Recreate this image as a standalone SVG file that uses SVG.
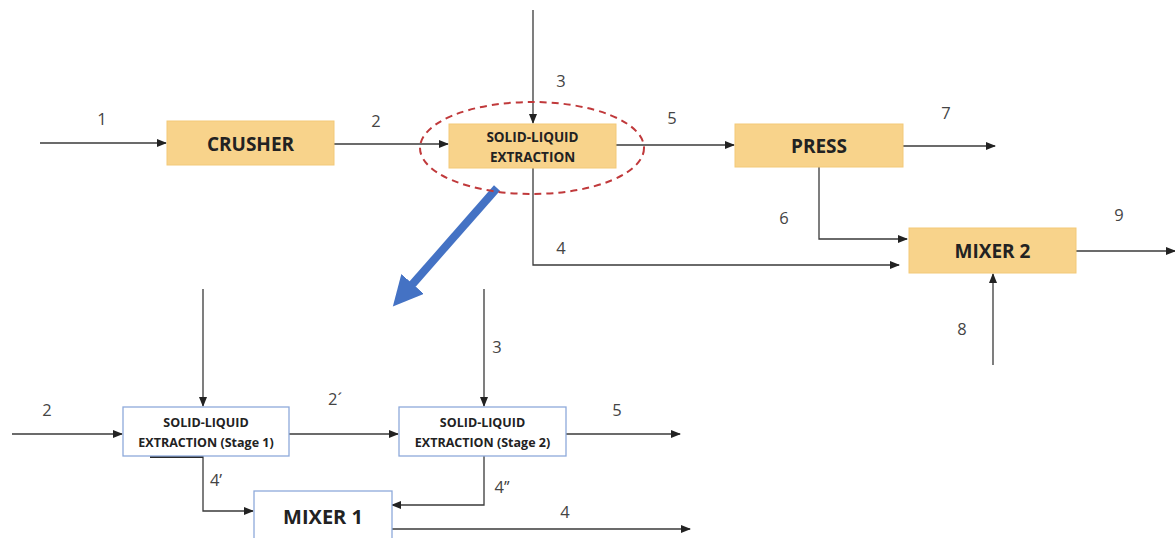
<svg xmlns="http://www.w3.org/2000/svg" width="1175" height="538" viewBox="0 0 1175 538">
<style>
.box{fill:#f8d38b;stroke:#f3c978;stroke-width:1}
.wbox{fill:#ffffff;stroke:#8eaadb;stroke-width:1.3}
.ln{fill:none;stroke:#3a3a3a;stroke-width:1.3}
.t{font-family:"Open Sans","Liberation Sans",sans-serif;font-weight:bold;fill:#222;text-anchor:middle}
.lbl{font-family:"Open Sans","Liberation Sans",sans-serif;font-size:16.5px;fill:#444;text-anchor:middle}
</style>
<defs>
<marker id="ah" markerWidth="10" markerHeight="8" refX="9" refY="4" orient="auto" markerUnits="userSpaceOnUse">
<path d="M0,0 L10,4 L0,8 z" fill="#222"/>
</marker>
<marker id="bh" markerWidth="34" markerHeight="30" refX="4" refY="15" orient="auto" markerUnits="userSpaceOnUse">
<path d="M0,0 L30,15 L0,30 z" fill="#4472c4"/>
</marker>
</defs>
<rect width="1175" height="538" fill="#ffffff"/>

<g id="connectors">
<path class="ln" d="M40,143 H166" marker-end="url(#ah)"/>
<path class="ln" d="M334,144 H448" marker-end="url(#ah)"/>
<path class="ln" d="M533,10 V123" marker-end="url(#ah)"/>
<path class="ln" d="M616,145 H734" marker-end="url(#ah)"/>
<path class="ln" d="M903,146 H995" marker-end="url(#ah)"/>
<path class="ln" d="M819,167 V239 H907" marker-end="url(#ah)"/>
<path class="ln" d="M533,168 V265 H899" marker-end="url(#ah)"/>
<path class="ln" d="M1076,251 H1175" marker-end="url(#ah)"/>
<path class="ln" d="M993,365 V274" marker-end="url(#ah)"/>
<line x1="497" y1="188" x2="410" y2="287" stroke="#4472c4" stroke-width="8" marker-end="url(#bh)"/>

<path class="ln" d="M12,434 H122" marker-end="url(#ah)"/>
<path class="ln" d="M203,289 V406" marker-end="url(#ah)"/>
<path class="ln" d="M289,434 H398" marker-end="url(#ah)"/>
<path class="ln" d="M484,289 V406" marker-end="url(#ah)"/>
<path class="ln" d="M566,434 H680" marker-end="url(#ah)"/>
<path class="ln" d="M484,456 V505 H392" marker-end="url(#ah)"/>
<path class="ln" d="M203,456 V511 H253" marker-end="url(#ah)"/>
<path class="ln" d="M392,529 H690" marker-end="url(#ah)"/>
<line x1="150" y1="457" x2="203" y2="457" stroke="#2a2a2a" stroke-width="2"/>
</g>

<g id="crusher">
<rect class="box" x="167" y="121" width="167" height="44"/>
<text class="t" x="250.5" y="150.5" font-size="19">CRUSHER</text>
</g>
<g id="extraction">
<rect class="box" x="449" y="124" width="167" height="44"/>
<text class="t" x="532.5" y="141.5" font-size="13.5">SOLID-LIQUID</text>
<text class="t" x="532.5" y="161.5" font-size="13.5">EXTRACTION</text>
<ellipse cx="532" cy="148" rx="112" ry="46" fill="none" stroke="#c0393b" stroke-width="2" stroke-dasharray="7,5"/>
</g>
<g id="press">
<rect class="box" x="735" y="124" width="168" height="43"/>
<text class="t" x="819" y="152.5" font-size="19">PRESS</text>
</g>
<g id="mixer2">
<rect class="box" x="909" y="228" width="167" height="45"/>
<text class="t" x="992.5" y="257.5" font-size="19">MIXER 2</text>
</g>
<g id="stage1">
<rect class="wbox" x="123" y="407" width="166" height="49"/>
<text class="t" x="206" y="427" font-size="12.5">SOLID-LIQUID</text>
<text class="t" x="206" y="447" font-size="12.5">EXTRACTION (Stage 1)</text>
</g>
<g id="stage2">
<rect class="wbox" x="399" y="407" width="167" height="49"/>
<text class="t" x="482.5" y="427" font-size="12.5">SOLID-LIQUID</text>
<text class="t" x="482.5" y="447" font-size="12.5">EXTRACTION (Stage 2)</text>
</g>
<g id="mixer1">
<rect class="wbox" x="254" y="491" width="138" height="60"/>
<text class="t" x="323" y="524" font-size="20">MIXER 1</text>
</g>

<g id="labels">
<text class="lbl" x="102" y="125">1</text>
<text class="lbl" x="376" y="127">2</text>
<text class="lbl" x="561" y="87">3</text>
<text class="lbl" x="672" y="124">5</text>
<text class="lbl" x="946" y="119">7</text>
<text class="lbl" x="784" y="224">6</text>
<text class="lbl" x="1119" y="221">9</text>
<text class="lbl" x="561" y="254">4</text>
<text class="lbl" x="962" y="335">8</text>
<text class="lbl" x="47" y="416">2</text>
<text class="lbl" x="335" y="405">2´</text>
<text class="lbl" x="497" y="353">3</text>
<text class="lbl" x="617" y="416">5</text>
<text class="lbl" x="216" y="486">4’</text>
<text class="lbl" x="502" y="493">4’’</text>
<text class="lbl" x="565" y="518">4</text>
</g>
</svg>
